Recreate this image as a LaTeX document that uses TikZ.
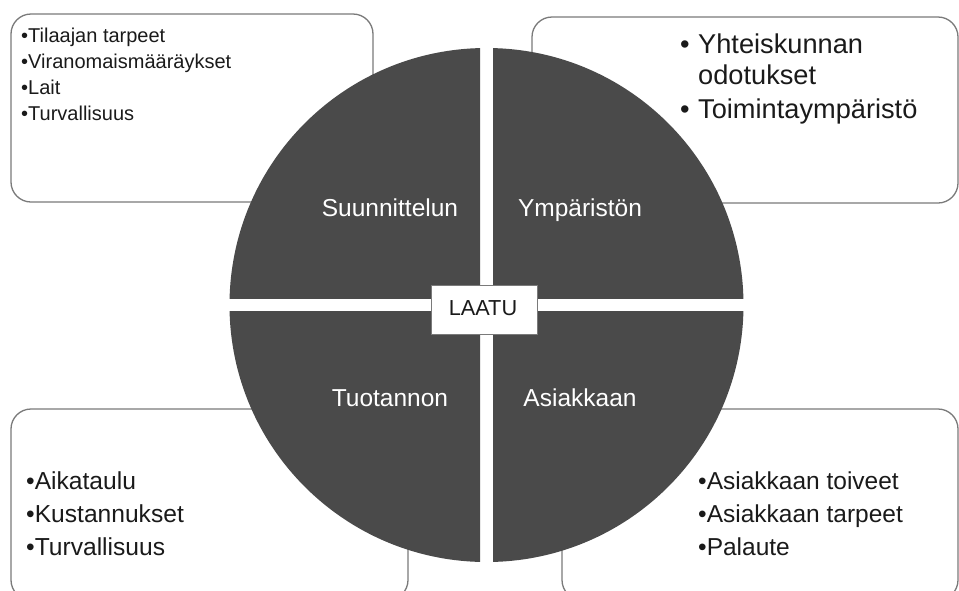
\documentclass[tikz,border=0pt]{standalone}
\usepackage{fontspec}
\setmainfont{Liberation Sans}
\definecolor{piegray}{HTML}{4A4A4A}
\definecolor{boxgray}{HTML}{7A7A7A}
\definecolor{txt}{HTML}{1A1A1A}
\begin{document}
\begin{tikzpicture}[x=1pt,y=-1pt,
  infobox/.style={draw=boxgray, line width=1.3pt, rounded corners=20pt},
  item/.style={anchor=base west, inner sep=0pt, text=txt},
  seglabel/.style={anchor=base, text=white, inner sep=0pt, font=\fontsize{24.5}{29}\selectfont}]
\useasboundingbox (0,0) rectangle (959,590);
% info boxes (behind the circle)
\draw[infobox] (11,14) rectangle (373,202);
\draw[infobox] (532,17) rectangle (958,203);
\draw[infobox] (11,409) rectangle (408,600);
\draw[infobox] (562,409) rectangle (958,600);
% circle quadrants
\coordinate (c) at (486.5,305);
\begin{scope}\clip (0,0) rectangle (480,298.5);\fill[piegray] (c) circle (257pt);\end{scope}
\begin{scope}\clip (493,0) rectangle (959,298.5);\fill[piegray] (c) circle (257pt);\end{scope}
\begin{scope}\clip (0,311.5) rectangle (480,590);\fill[piegray] (c) circle (257pt);\end{scope}
\begin{scope}\clip (493,311.5) rectangle (959,590);\fill[piegray] (c) circle (257pt);\end{scope}
% quadrant labels
\node[seglabel] (suun) at (390,216) {Suunnittelun};
\node[seglabel] (ymp) at (580,216) {Ympäristön};
\node[seglabel] (tuot) at (390,406) {Tuotannon};
\node[seglabel] (asia) at (580,406) {Asiakkaan};
% centre
\node[draw=boxgray, line width=0.8pt, fill=white, minimum width=106pt, minimum height=49pt, inner sep=0pt] (laatu) at (484,309.5) {};
\node[anchor=base, inner sep=0pt, text=txt, font=\fontsize{21.7}{26}\selectfont] (laatutxt) at (483,315.5) {LAATU};
% top-left items
\begin{scope}[font=\fontsize{20}{24}\selectfont]
\node[item] (tl1) at (21,42) {•Tilaajan tarpeet};
\node[item] (tl2) at (21,68) {•Viranomaismääräykset};
\node[item] (tl3) at (21,94) {•Lait};
\node[item] (tl4) at (21,120) {•Turvallisuus};
\end{scope}
% top-right items
\begin{scope}[font=\fontsize{27.2}{32}\selectfont]
\node[item] (tr1b) at (680,53) {•};
\node[item] (tr1) at (698,53) {Yhteiskunnan};
\node[item] (tr2) at (698,84) {odotukset};
\node[item] (tr3b) at (680,118) {•};
\node[item] (tr3) at (698,118) {Toimintaympäristö};
\end{scope}
% bottom-left items
\begin{scope}[font=\fontsize{24.6}{30}\selectfont]
\node[item] (bl1) at (26,489) {•Aikataulu};
\node[item] (bl2) at (26,522) {•Kustannukset};
\node[item] (bl3) at (26,555) {•Turvallisuus};
\end{scope}
% bottom-right items
\begin{scope}[font=\fontsize{24.5}{30}\selectfont]
\node[item] (br1) at (698,489) {•Asiakkaan toiveet};
\node[item] (br2) at (698,522) {•Asiakkaan tarpeet};
\node[item] (br3) at (698,555) {•Palaute};
\end{scope}
\end{tikzpicture}
\end{document}
